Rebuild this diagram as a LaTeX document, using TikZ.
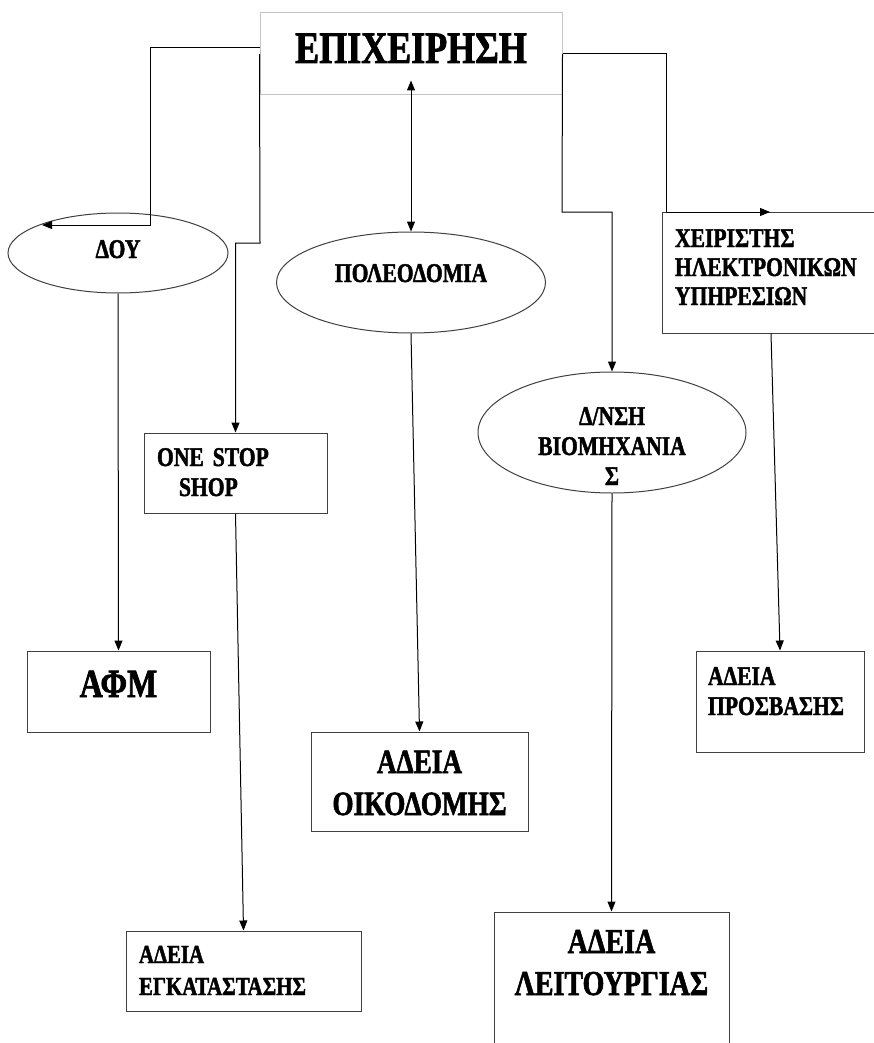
\documentclass[tikz,border=0pt]{standalone}
\usepackage{fontspec}
\usetikzlibrary{shapes.geometric,arrows.meta}
\newfontfamily\gkfont[FakeStretch=0.8,FakeBold=1.6]{Liberation Serif Bold}
\newcommand\gfs[2]{\gkfont\fontsize{#1}{#2}\selectfont}
\definecolor{edge}{HTML}{404040}
\definecolor{lightedge}{HTML}{C4C4C4}

\begin{document}
\begin{tikzpicture}[x=1pt,y=-1pt,
  frame/.style={draw=edge, line width=1pt, rectangle, inner ysep=0pt},
  oval/.style={draw=edge, line width=1pt, ellipse, inner sep=0pt, align=center},
  link/.style={line width=1pt, -{Triangle[length=10pt,width=8pt]}},
  both/.style={line width=1pt, {Triangle[length=10pt,width=8pt]}-{Triangle[length=10pt,width=8pt]}}]
\useasboundingbox[fill=white] (0,0) rectangle (873,1043);

% company box at the top
\node[frame, draw=lightedge, inner xsep=0pt, text width=302pt, align=center,
      text height=50pt, text depth=32pt, font=\gfs{45}{50}] (top) at (411,54) {ΕΠΙΧΕΙΡΗΣΗ};

% authorities
\node[oval, minimum width=220pt, minimum height=80pt, text width=100pt,
      text height=10pt, text depth=0pt, font=\gfs{27}{30}] (dou) at (118,253) {ΔΟΥ};
\node[oval, minimum width=269pt, minimum height=101pt, text width=170pt,
      text height=0pt, text depth=1pt, font=\gfs{27}{30}] (pol) at (411,282.5) {ΠΟΛΕΟΔΟΜΙΑ};
\node[oval, minimum width=268pt, minimum height=121pt, text width=180pt,
      text height=0pt, text depth=15pt, font=\gfs{27}{30}] (vio) at (612,432.5) {Δ/ΝΣΗ\\ΒΙΟΜΗΧΑΝΙΑ\\Σ};
\node[frame, inner xsep=13pt, text width=192pt, align=left,
      text height=35pt, text depth=86pt, font=\gfs{27}{29}] (xeir) at (771,272.5)
      {ΧΕΙΡΙΣΤΗΣ\\ΗΛΕΚΤΡΟΝΙΚΩΝ\\ΥΠΗΡΕΣΙΩΝ};
\node[frame, inner xsep=13pt, text width=157pt, align=left,
      text height=33pt, text depth=47pt, font=\gfs{27}{30}] (one) at (235.5,473)
      {ONE STOP\\\hspace*{22pt}SHOP};

% resulting documents
\node[frame, inner xsep=0pt, text width=183pt, align=center,
      text height=46pt, text depth=35pt, font=\gfs{40}{44}] (afm) at (118.5,691.5) {ΑΦΜ};
\node[frame, inner xsep=0pt, text width=217pt, align=center,
      text height=41pt, text depth=58pt, font=\gfs{34}{42}] (oik) at (419.5,781.5) {ΑΔΕΙΑ\\ΟΙΚΟΔΟΜΗΣ};
\node[frame, inner xsep=13pt, text width=209pt, align=left,
      text height=32pt, text depth=48pt, font=\gfs{26}{32}] (egk) at (243.5,971) {ΑΔΕΙΑ\\ΕΓΚΑΤΑΣΤΑΣΗΣ};
\node[frame, inner xsep=0pt, text width=235pt, align=center,
      text height=41pt, text depth=107pt, font=\gfs{35}{42}] (leit) at (611.5,986) {ΑΔΕΙΑ\\ΛΕΙΤΟΥΡΓΙΑΣ};
\node[frame, inner xsep=12pt, text width=144pt, align=left,
      text height=34pt, text depth=67pt, font=\gfs{27}{30}] (pros) at (780,701.5) {ΑΔΕΙΑ\\ΠΡΟΣΒΑΣΗΣ};

% elbow points of the routed connectors
\coordinate (k1) at (150,48);
\coordinate (k2) at (150,225);
\coordinate (doutip) at (42,225);
\coordinate (k3) at (260,243);
\coordinate (k4) at (666,54);
\coordinate (k5) at (666,212);
\coordinate (xeirtip) at (770,212);
\coordinate (k7) at (562,212);

% connectors from the company box
\draw[link] ([yshift=6pt]top.west) -- (k1) -- (k2) -- (doutip);
\draw[link] (top.west) -- (k3) -| (one.north);
\draw[both] ([yshift=15pt]top.south) -- (pol.north);
\draw[link] (top.east) -- (k4) -- (k5) -- (xeirtip);
\draw[link] (top.east) -- (k7) -| (vio.north);

% connectors to the documents
\draw[link] (dou.south) -- (afm.north);
\draw[link] (one.south) -- (egk.north);
\draw[link] (pol.south) -- (oik.north);
\draw[link] (vio.south) -- (leit.north);
\draw[link] (xeir.south) -- (pros.north);
\end{tikzpicture}
\end{document}
